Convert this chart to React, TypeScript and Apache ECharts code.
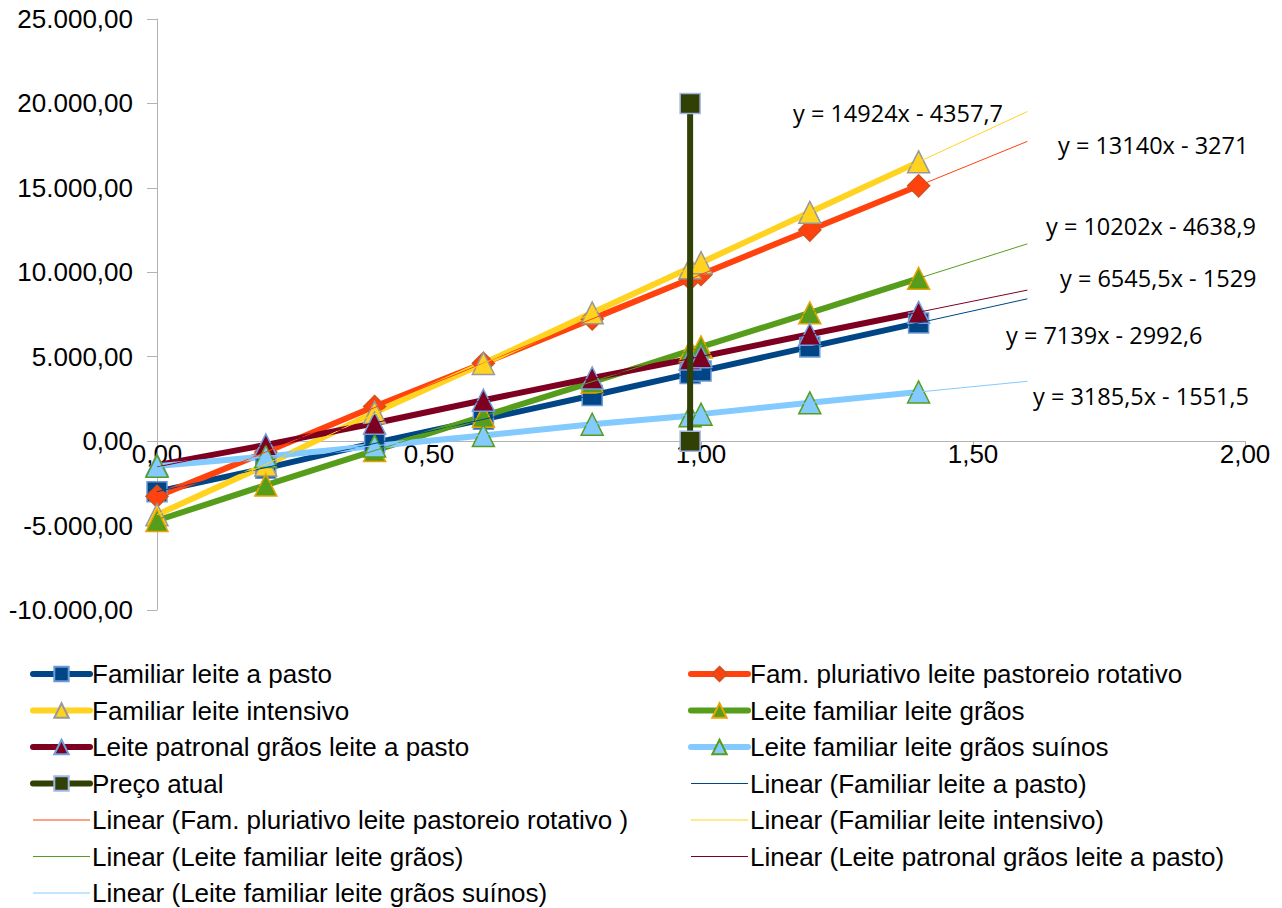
import React, { useEffect, useRef } from "react";
import * as echarts from "echarts";

// ---- data ----
const xValues = [0, 0.2, 0.4, 0.6, 0.8, 0.98, 1.0, 1.2, 1.4];

const familiarPasto = [-2990, -1600, -100, 1290, 2700, 4000, 4150, 5580, 7000];
const famPluriativo = [-3270, -640, 2050, 4610, 7240, 9600, 9870, 12500, 15120];
const familiarIntensivo = [-4360, -1420, 1700, 4600, 7600, 10270, 10570, 13550, 16540];
const leiteGraos = [-4700, -2600, -560, 1480, 3500, 5360, 5580, 7600, 9640];
const patronalPasto = [-1420, -220, 1060, 2420, 3740, 4870, 5000, 6330, 7630];
const graosSuinos = [-1480, -910, -290, 330, 1000, 1500, 1600, 2270, 2910];

const precoX = [0.98, 0.98];
const precoY = [0, 20000];

const seriesNames = [
  "Familiar leite a pasto",
  "Fam. pluriativo leite pastoreio rotativo",
  "Familiar leite intensivo",
  "Leite familiar leite grãos",
  "Leite patronal grãos leite a pasto",
  "Leite familiar leite grãos suínos",
];
const trendNames = [
  "Linear (Familiar leite a pasto)",
  "Linear (Fam. pluriativo leite pastoreio rotativo )",
  "Linear (Familiar leite intensivo)",
  "Linear (Leite familiar leite grãos)",
  "Linear (Leite patronal grãos leite a pasto)",
  "Linear (Leite familiar leite grãos suínos)",
];
const trendSlopes = [7139, 13140, 14924, 10202, 6545.5, 3185.5];
const trendIntercepts = [-2992.6, -3271, -4357.7, -4638.9, -1529, -1551.5];
const trendRange = [0, 1.6];
const trendLabels = [
  "y = 7139x - 2992,6",
  "y = 13140x - 3271",
  "y = 14924x - 4357,7",
  "y = 10202x - 4638,9",
  "y = 6545,5x - 1529",
  "y = 3185,5x - 1551,5",
];

const colors = ["#004586", "#ff420e", "#ffd320", "#579d1c", "#7e0021", "#83caff"];
const symbols = ["rect", "diamond", "triangle", "triangle", "triangle", "triangle"];
const borders = ["#6d9ad6", "#d4501c", "#999999", "#e8a202", "#6f9fdc", "#579d1c"];
const symbolSizes = [20, 22, 22, 22, 22, 22];
const seriesValues = [familiarPasto, famPluriativo, familiarIntensivo, leiteGraos, patronalPasto, graosSuinos];

// label placement (pixels) for trend equations
const labelPos = [
  [1006, 335],
  [1058, 145],
  [793, 113],
  [1046, 226],
  [1060, 278],
  [1033, 396],
];

const fmt = (v: number, thousands: boolean) => {
  const neg = v < 0;
  const a = Math.abs(v);
  const [ip, dp] = a.toFixed(2).split(".");
  const withSep = thousands ? ip.replace(/\B(?=(\d{3})+(?!\d))/g, ".") : ip;
  return (neg ? "-" : "") + withSep + "," + dp;
};

const FONT = "'Liberation Sans', Arial, sans-serif";
const W = 1282;
const H = 908;
const GRID = { left: 157, right: 37, top: 19, bottom: 298 };
const Y_MIN = -10000;
const Y_MAX = 25000;

export default function App() {
  const ref = useRef<HTMLDivElement>(null);
  useEffect(() => {
    if (!ref.current) return;
    document.body.style.margin = "0";
    document.body.style.overflow = "hidden";
    const chart = echarts.init(ref.current, undefined, { renderer: "svg" });

    const dataSeries: any[] = seriesValues.map((vals, i) => ({
      name: seriesNames[i],
      type: "line",
      data: xValues.map((x, j) => [x, vals[j]]),
      symbol: symbols[i],
      symbolSize: symbolSizes[i],
      showSymbol: true,
      lineStyle: { color: colors[i], width: 6 },
      itemStyle: { color: colors[i], borderColor: borders[i], borderWidth: 1.5 },
      z: 2,
    }));

    const precoSeries = {
      name: "Preço atual",
      type: "line",
      data: precoX.map((x, j) => [x, precoY[j]]),
      symbol: "rect",
      symbolSize: 20,
      lineStyle: { color: "#314004", width: 6 },
      itemStyle: { color: "#314004", borderColor: "#a4b6e8", borderWidth: 1.5 },
      z: 4,
    };

    const trendSeries: any[] = trendNames.map((n, i) => ({
      name: n,
      type: "line",
      data: trendRange.map((x) => [x, trendSlopes[i] * x + trendIntercepts[i]]),
      symbol: "none",
      lineStyle: { color: colors[i], width: 1 },
      itemStyle: { color: colors[i] },
      z: 3,
    }));

    const dataItem = (name: string) => ({ name, lineStyle: { width: 6, cap: "round" } });
    const trendItem = (name: string) => ({
      name,
      lineStyle: { width: 1 },
      itemStyle: { opacity: 0, color: "transparent", borderWidth: 0 },
    });

    const col1 = [
      dataItem(seriesNames[0]),
      dataItem(seriesNames[2]),
      dataItem(seriesNames[4]),
      dataItem("Preço atual"),
      trendItem(trendNames[1]),
      trendItem(trendNames[3]),
      trendItem(trendNames[5]),
    ];
    const col2 = [
      dataItem(seriesNames[1]),
      dataItem(seriesNames[3]),
      dataItem(seriesNames[5]),
      trendItem(trendNames[0]),
      trendItem(trendNames[2]),
      trendItem(trendNames[4]),
    ];

    const legendCommon = {
      orient: "vertical",
      padding: 0,
      height: 300,
      itemWidth: 57,
      itemHeight: 18,
      itemGap: 10.5,
      textStyle: { fontSize: 26, color: "#000", fontFamily: FONT, padding: [0, 0, 0, -3] },
    };

    const zeroY = GRID.top + ((Y_MAX - 0) / (Y_MAX - Y_MIN)) * (H - GRID.top - GRID.bottom);
    const xAxisOffset = -(H - GRID.bottom - zeroY);

    chart.setOption({
      animation: false,
      backgroundColor: "#fff",
      grid: { ...GRID, containLabel: false },
      xAxis: {
        type: "value",
        min: 0,
        max: 2,
        interval: 0.5,
        position: "bottom",
        offset: xAxisOffset,
        axisLine: { onZero: false, lineStyle: { color: "#b3b3b3", width: 1 } },
        axisTick: { show: true, length: 7, lineStyle: { color: "#b3b3b3" } },
        splitLine: { show: false },
        axisLabel: {
          formatter: (v: number) => fmt(v, false),
          fontSize: 26,
          fontFamily: FONT,
          color: "#000",
          margin: 0,
        },
      },
      yAxis: {
        type: "value",
        min: Y_MIN,
        max: Y_MAX,
        interval: 5000,
        axisLine: { show: true, onZero: false, lineStyle: { color: "#b3b3b3", width: 1 } },
        axisTick: { show: true, length: 10, lineStyle: { color: "#b3b3b3" } },
        splitLine: { show: false },
        axisLabel: {
          formatter: (v: number) => fmt(v, true),
          fontSize: 26,
          fontFamily: FONT,
          color: "#000",
          margin: 24,
        },
      },
      legend: [
        { ...legendCommon, left: 30, top: 661, data: col1 },
        { ...legendCommon, left: 688, top: 661, data: col2 },
      ],
      graphic: trendLabels.map((t, i) => ({
        type: "text",
        x: labelPos[i][0],
        y: labelPos[i][1],
        style: {
          text: t,
          fontSize: 23.5,
          fontFamily: "'Open Sans', 'Noto Sans', sans-serif",
          fill: "#000",
          textVerticalAlign: "middle",
        },
        z: 10,
      })),
      series: [...dataSeries, precoSeries, ...trendSeries],
    });

    return () => chart.dispose();
  }, []);

  return <div ref={ref} style={{ position: "absolute", left: 0, top: 0, width: W, height: H }} />;
}
